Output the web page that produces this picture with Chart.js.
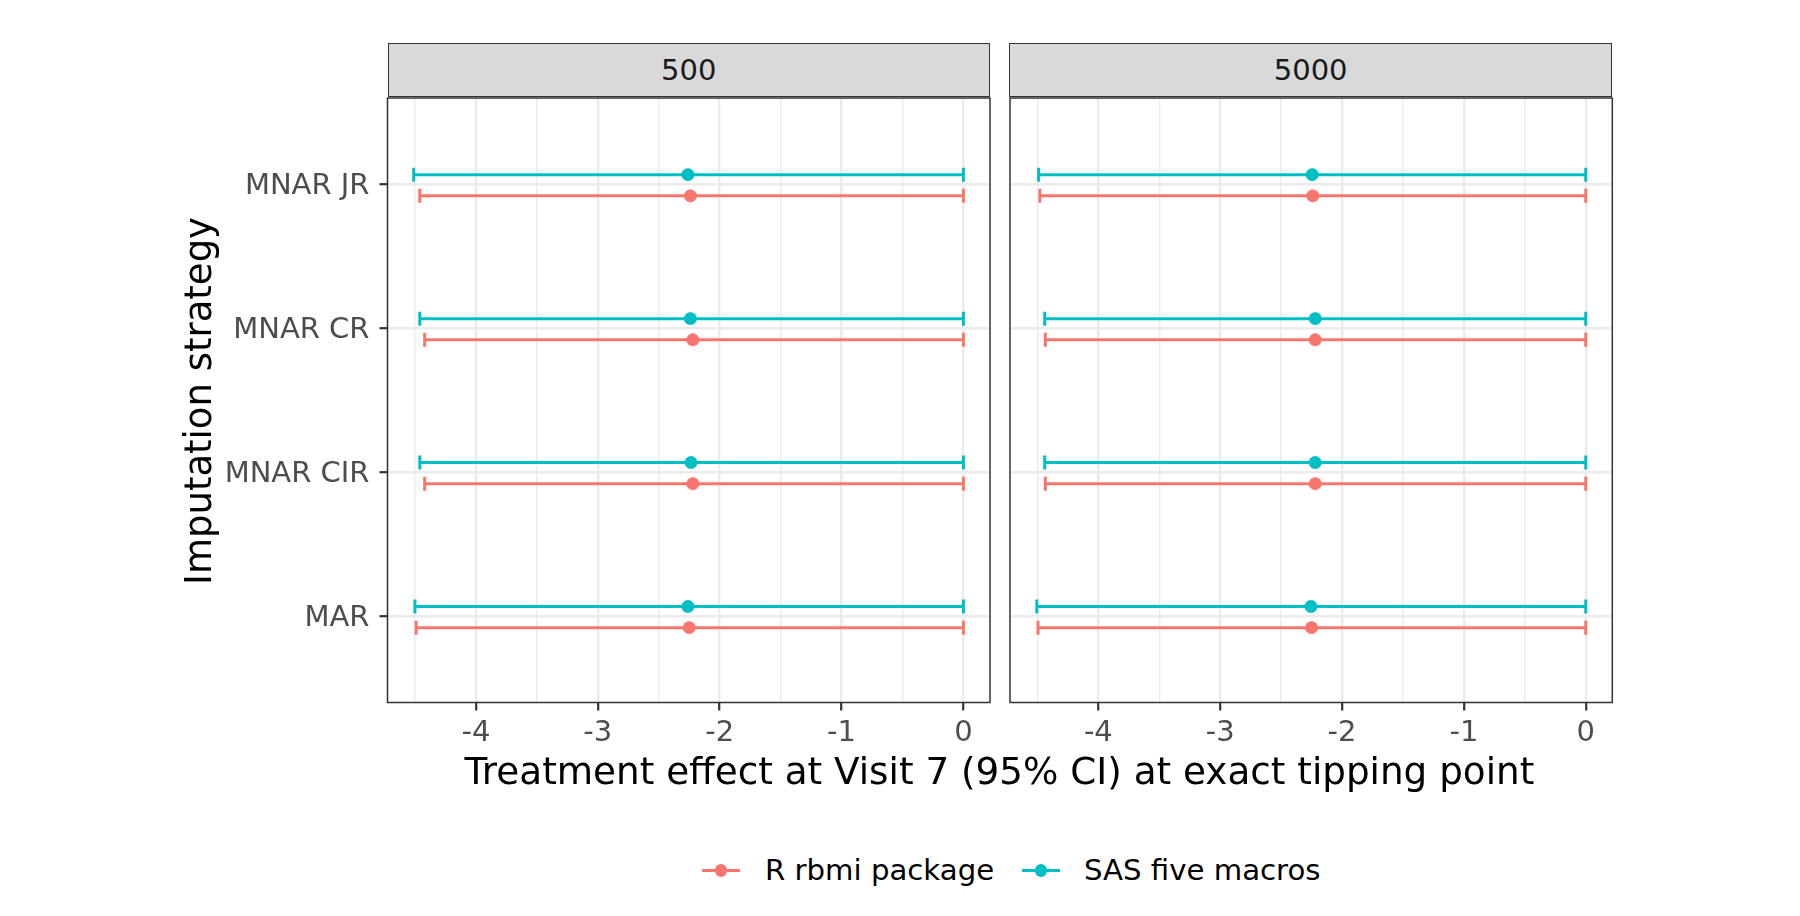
<!DOCTYPE html>
<html>
<head>
<meta charset="utf-8">
<script src="https://cdn.jsdelivr.net/npm/chart.js@4.4.1/dist/chart.umd.min.js"></script>
<style>
  html, body { margin: 0; padding: 0; background: #fff; }
  body { width: 1800px; height: 916px; position: relative; overflow: hidden; font-family: "DejaVu Sans", sans-serif; }
  canvas { position: absolute; }
  .strip { position: absolute; box-sizing: border-box; background: #d9d9d9; border: 1.5px solid #333;
           color: #1a1a1a; font-size: 29px; display: flex; align-items: center; justify-content: center; }
  .title { position: absolute; color: #000; text-align: center; white-space: nowrap; }
  .key-line { position: absolute; height: 3px; width: 38px; }
  .key-dot { position: absolute; width: 12.6px; height: 12.6px; border-radius: 50%; }
  .key-text { position: absolute; font-size: 29.2px; line-height: 40px; color: #000; white-space: nowrap; }
</style>
</head>
<body>
<div class="strip" id="strip0" style="left:387.5px;top:43.3px;width:602.5px;height:53.4px"></div>
<div class="strip" id="strip1" style="left:1009px;top:43.3px;width:603.3px;height:53.4px"></div>
<canvas id="panel0" width="1000" height="720" style="left:0;top:40px"></canvas>
<canvas id="panel1" width="630" height="720" style="left:1000px;top:40px"></canvas>
<div class="title" id="ytitle" style="left:-101.5px;top:379px;width:600px;line-height:44px;font-size:37px;transform:rotate(-90deg)"></div>
<div class="title" id="xtitle" style="left:299.4px;top:748.5px;width:1400px;line-height:44px;font-size:37.3px"></div>
<div id="legend"></div>

<script>
/* data: CI of treatment effect per imputation strategy */
const categories = ["MNAR JR", "MNAR CR", "MNAR CIR", "MAR"];
const panels = ["500", "5000"];
const seriesNames = ["R rbmi package", "SAS five macros"];
const xTicks = [-4, -3, -2, -1, 0];
const xMinor = [-4.5, -3.5, -2.5, -1.5, -0.5];

// panel "500"
const rEst500 = [-2.24, -2.22, -2.22, -2.25];
const rLow500 = [-4.46, -4.42, -4.42, -4.49];
const rHigh500 = [0, 0, 0, 0];
const sasEst500 = [-2.26, -2.24, -2.235, -2.26];
const sasLow500 = [-4.51, -4.46, -4.46, -4.50];
const sasHigh500 = [0, 0, 0, 0];

// panel "5000"
const rEst5000 = [-2.24, -2.22, -2.22, -2.25];
const rLow5000 = [-4.48, -4.435, -4.435, -4.495];
const rHigh5000 = [0, 0, 0, 0];
const sasEst5000 = [-2.245, -2.22, -2.22, -2.255];
const sasLow5000 = [-4.49, -4.44, -4.44, -4.505];
const sasHigh5000 = [0, 0, 0, 0];

const FONT = "DejaVu Sans";
const COLORS = ["#F8766D", "#00BFC4"];
const DODGE = [-0.08, 0.067];
const yPos = i => categories.length - i;

document.getElementById("strip0").textContent = panels[0];
document.getElementById("strip1").textContent = panels[1];
document.getElementById("ytitle").textContent = "Imputation strategy";
document.getElementById("xtitle").textContent = "Treatment effect at Visit 7 (95% CI) at exact tipping point";

/* legend */
const lg = document.getElementById("legend");
const keyX = [702, 1022], textX = [765, 1084];
seriesNames.forEach((name, k) => {
  lg.innerHTML += `
    <div class="key-line" style="left:${keyX[k]}px;top:869.2px;background:${COLORS[k]}"></div>
    <div class="key-dot" style="left:${keyX[k] + 12.7}px;top:864.4px;background:${COLORS[k]}"></div>
    <div class="key-text" style="left:${textX[k]}px;top:850px">${name}</div>`;
});

const panelBorder = {
  id: "panelBorder",
  afterDraw(chart) {
    const { ctx, chartArea: a } = chart;
    ctx.save();
    ctx.strokeStyle = "#333333";
    ctx.lineWidth = 1.5;
    ctx.strokeRect(a.left, a.top, a.right - a.left, a.bottom - a.top);
    ctx.restore();
  },
};

function buildDatasets(series) {
  const sets = [];
  series.forEach((s, k) => {
    categories.forEach((c, i) => {
      const y = yPos(i) + DODGE[k];
      sets.push({
        showLine: true,
        data: [{ x: s.low[i], y }, { x: s.high[i], y }],
        borderColor: COLORS[k], borderWidth: 3,
        pointStyle: "line", pointRotation: 90, pointRadius: 7,
        pointBorderColor: COLORS[k], pointBorderWidth: 3,
        order: 2,
      });
    });
  });
  series.forEach((s, k) => {
    sets.push({
      data: s.est.map((v, i) => ({ x: v, y: yPos(i) + DODGE[k] })),
      pointRadius: 6.2, pointBackgroundColor: COLORS[k],
      pointBorderColor: COLORS[k], pointBorderWidth: 0.6,
      order: 1,
    });
  });
  return sets;
}

function panelOptions(showY, padding) {
  const tickFont = { family: FONT, size: 29 };
  return {
    responsive: false, animation: false, events: [],
    layout: { padding },
    plugins: { legend: { display: false }, tooltip: { enabled: false } },
    scales: {
      x: {
        type: "linear", min: -4.725, max: 0.218,
        afterBuildTicks: s => { s.ticks = [...xMinor, ...xTicks].sort((a, b) => a - b).map(v => ({ value: v })); },
        afterFit: s => { s.height = 57.5; },
        border: { display: false },
        grid: {
          color: "#EBEBEB",
          lineWidth: c => xTicks.includes(c.tick.value) ? 2.4 : 1.4,
          tickLength: 8,
          tickColor: c => xTicks.includes(c.tick.value) ? "#333333" : "rgba(0,0,0,0)",
          tickWidth: 2.2,
        },
        ticks: {
          autoSkip: false, maxRotation: 0, padding: 6, color: "#4D4D4D", font: tickFont,
          callback: v => xTicks.includes(v) ? String(v) : "",
        },
      },
      y: {
        type: "linear", min: 0.4, max: 4.6,
        afterBuildTicks: s => { s.ticks = categories.map((c, i) => ({ value: yPos(i) })); },
        afterFit: s => { s.width = showY ? 387.5 : 0; },
        border: { display: false },
        grid: { color: "#EBEBEB", lineWidth: 2.4, drawTicks: showY, tickLength: 8, tickColor: "#333333", tickWidth: 2.2 },
        ticks: {
          display: showY, padding: 10, labelOffset: 2, color: "#4D4D4D", font: tickFont,
          callback: v => categories[categories.length - v],
        },
      },
    },
  };
}

new Chart(document.getElementById("panel0"), {
  type: "scatter",
  data: { datasets: buildDatasets([
    { est: rEst500, low: rLow500, high: rHigh500 },
    { est: sasEst500, low: sasLow500, high: sasHigh500 },
  ]) },
  options: panelOptions(true, { top: 58, right: 10, bottom: 0, left: 0 }),
  plugins: [panelBorder],
});

new Chart(document.getElementById("panel1"), {
  type: "scatter",
  data: { datasets: buildDatasets([
    { est: rEst5000, low: rLow5000, high: rHigh5000 },
    { est: sasEst5000, low: sasLow5000, high: sasHigh5000 },
  ]) },
  options: panelOptions(false, { top: 58, right: 17.7, bottom: 0, left: 9 }),
  plugins: [panelBorder],
});
</script>
</body>
</html>
